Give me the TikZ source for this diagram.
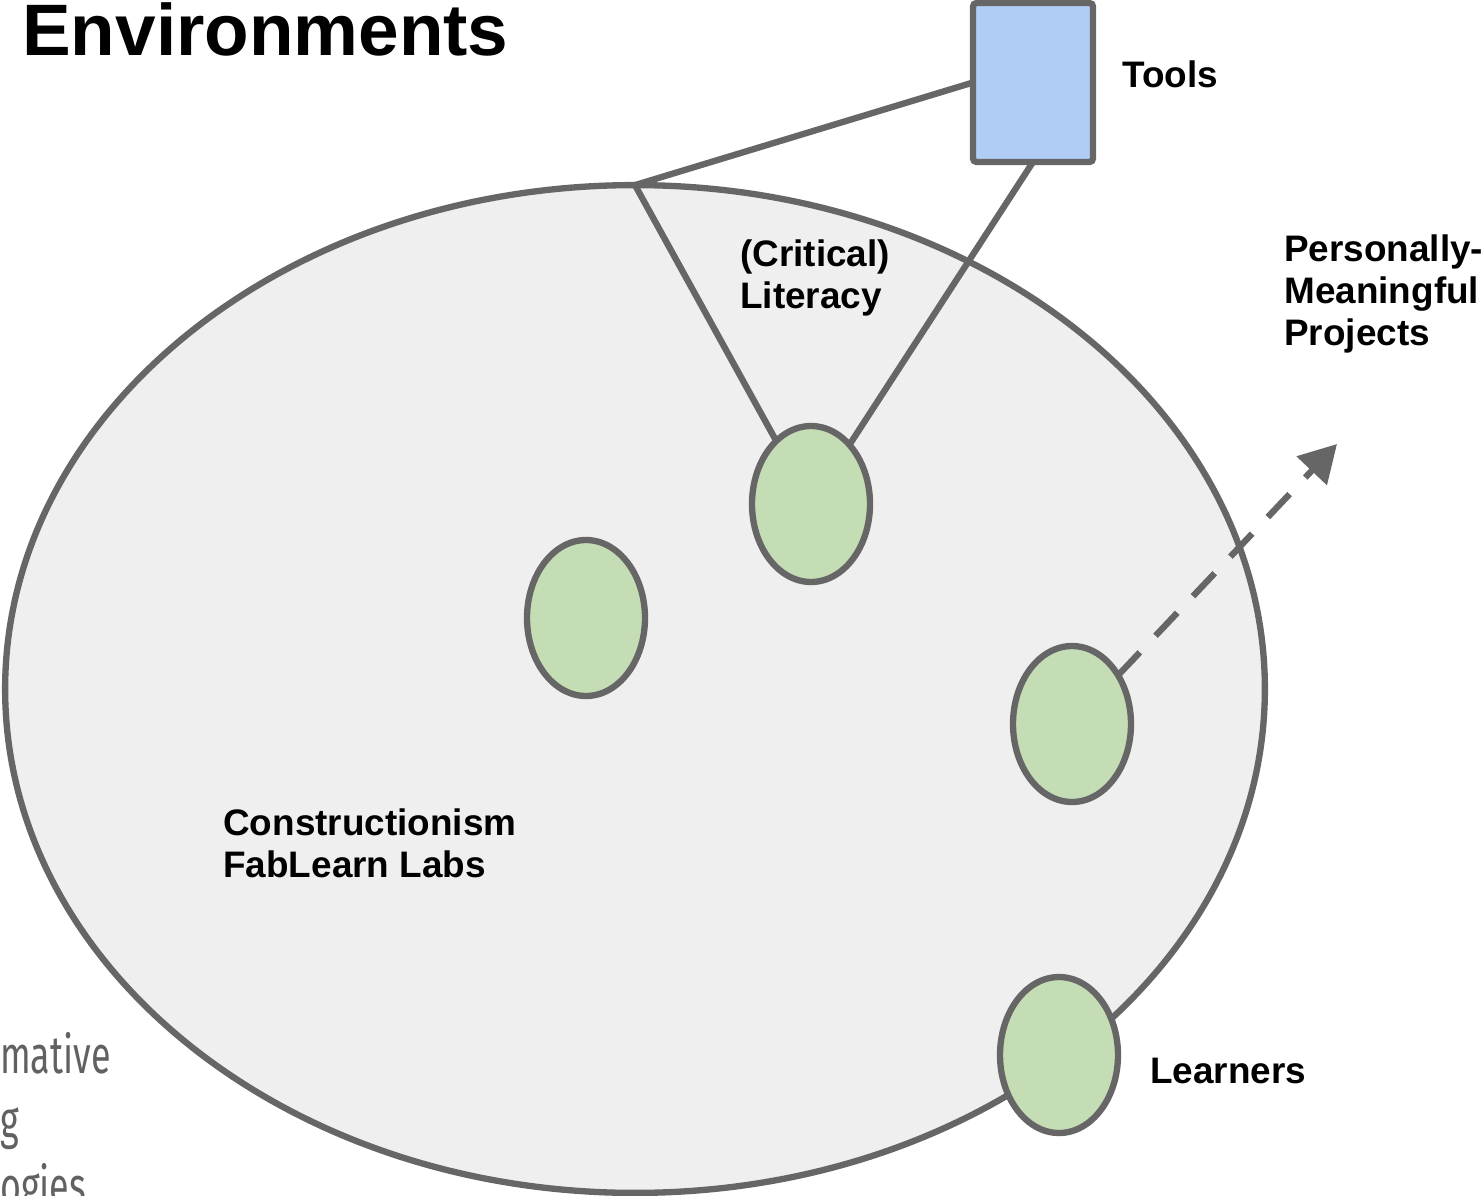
\documentclass[tikz,border=0pt]{standalone}
\usepackage{fontspec}
\setmainfont{Liberation Sans}
\newfontfamily\narrowfont{Fira Sans}
\usetikzlibrary{shapes.geometric,arrows.meta}
\definecolor{edgegray}{HTML}{666666}
\definecolor{envfill}{HTML}{EFEFEF}
\definecolor{learnerfill}{HTML}{C5DDB4}
\definecolor{toolfill}{HTML}{B0CDF5}
\tikzstyle{env}=[ellipse,draw=edgegray,fill=envfill,line width=3.6pt,inner sep=0,outer sep=0,minimum width=25.2cm,minimum height=20.16cm]
\tikzstyle{learner}=[ellipse,draw=edgegray,fill=learnerfill,line width=3.6pt,inner sep=0,outer sep=0,minimum width=2.36cm,minimum height=3.12cm]
\tikzstyle{tool}=[rectangle,draw=edgegray,fill=toolfill,line width=3.6pt,rounded corners=2pt,inner sep=0,outer sep=0,minimum width=2.4cm,minimum height=3.18cm]
\tikzstyle{label}=[anchor=west,inner sep=0,align=left,font=\bfseries\fontsize{21}{24}\selectfont]
\tikzstyle{link}=[draw=edgegray,line width=3.6pt]
\tikzstyle{bgtext}=[anchor=base west,inner sep=0,text=black!62,font=\narrowfont\fontsize{30}{30}\selectfont,xscale=0.68,transform shape]

\begin{document}
\begin{tikzpicture}[x=0.02cm,y=-0.02cm]
  \useasboundingbox (0,0) rectangle (1484,1196);
  \clip (0,0) rectangle (1484,1196);
  \fill[white] (0,0) rectangle (1484,1196);

  \node[bgtext] (bg1) at (0,1073) {mative};
  \node[bgtext] (bg2) at (0,1138) {g};
  \node[bgtext] (bg3) at (0,1204) {ogies};

  \node[anchor=base west,inner sep=0,font=\bfseries\fontsize{41.5}{44}\selectfont] (title) at (22,56) {Environments};

  \node[env] (env) at (635,689) {};
  \node[tool] (tools) at (1033,82.5) {};
  \node[learner] (lit) at (811,504) {};
  \node[learner] (mid) at (586,618) {};
  \node[learner] (proj) at (1072,724) {};
  \node[learner] (learn) at (1059,1055) {};
  \coordinate (goal) at (1337,444);

  \draw[link] (env.north) -- (tools.west);
  \draw[link] (env.north) -- (lit);
  \draw[link] (tools.south) -- (lit);
  \draw[link,dash pattern=on 18pt off 13pt,-{Triangle[length=21pt,width=23pt]}] (proj) -- (goal);

  \node[label] (tl) at (1122,74) {Tools};
  \node[label] (cl) at (740,278) {(Critical)\\Literacy};
  \node[label] (pl) at (1284,294) {Personally-\\Meaningful\\Projects};
  \node[label] (fl) at (223,843) {Constructionism\\FabLearn Labs};
  \node[label] (ll) at (1150,1071) {Learners};
\end{tikzpicture}
\end{document}
